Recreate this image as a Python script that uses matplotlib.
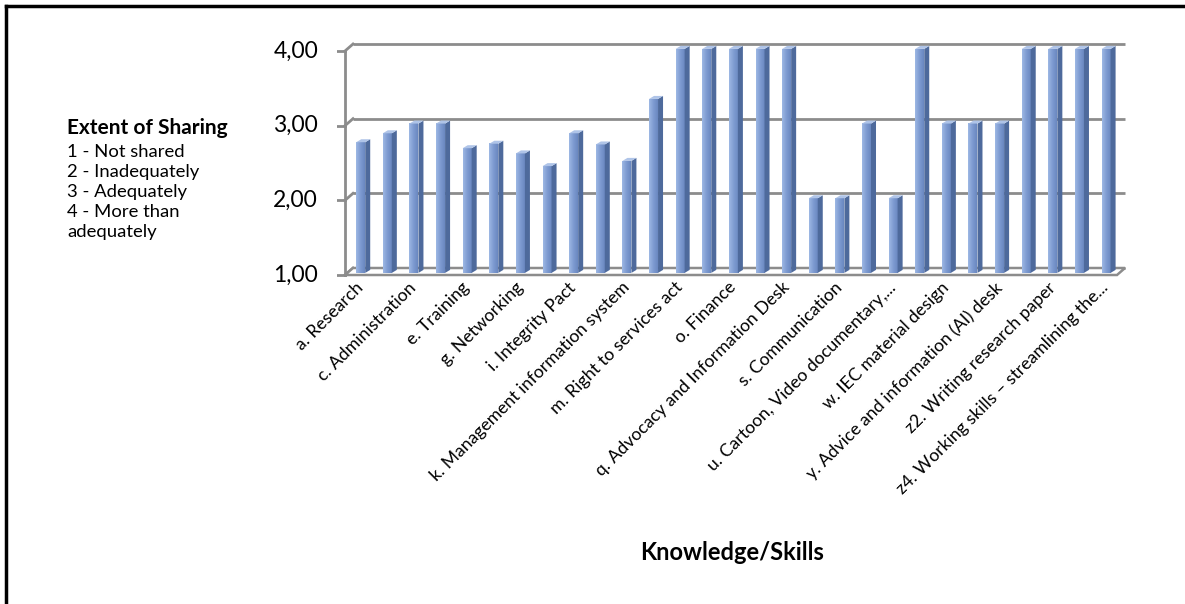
import matplotlib
matplotlib.use('Agg')
import matplotlib.pyplot as plt
import numpy as np
from matplotlib.patches import Polygon
from matplotlib.colors import LinearSegmentedColormap

# Data
codes = ['a', 'b', 'c', 'd', 'e', 'f', 'g', 'h', 'i', 'j', 'k', 'l', 'm', 'n', 'o',
         'p', 'q', 'r', 's', 't', 'u', 'v', 'w', 'x', 'y', 'z1', 'z2', 'z3', 'z4']
shown_labels = ['a. Research', 'c. Administration', 'e. Training', 'g. Networking',
                'i. Integrity Pact', 'k. Management information system',
                'm. Right to services act', 'o. Finance',
                'q. Advocacy and Information Desk', 's. Communication',
                'u. Cartoon, Video documentary,...', 'w. IEC material design',
                'y. Advice and information (AI) desk', 'z2. Writing research paper',
                'z4. Working skills \u2013 streamlining the...']
values = [2.75, 2.87, 3.00, 3.00, 2.67, 2.73, 2.60, 2.43, 2.87, 2.72, 2.50, 3.33,
          4.00, 4.00, 4.00, 4.00, 4.00, 2.00, 2.00, 3.00, 2.00, 4.00, 3.00, 3.00,
          3.00, 4.00, 4.00, 4.00, 4.00]
yticks = [1, 2, 3, 4]
legend_lines = ['1 - Not shared', '2 - Inadequately', '3 - Adequately',
                '4 - More than', 'adequately']

plt.rcParams['font.family'] = ['Lato', 'DejaVu Sans']

W, H = 1185, 604
fig = plt.figure(figsize=(W / 100, H / 100), dpi=100)

# axes placed in pixel terms
px_l, px_r, px_t, px_b = 337, 1150, 30, 290
ax = fig.add_axes([px_l / W, 1 - px_b / H, (px_r - px_l) / W, (px_b - px_t) / H])
pitch = (1117 - 345) / len(values)
yscale = (275 - 51) / 3.0
xlo = -0.5 - (345 - px_l) / pitch
xhi = -0.5 + (px_r - 345) / pitch
ylo = 1 - (px_b - 275) / yscale
yhi = 1 + (275 - px_t) / yscale
ax.axis('off')

# 3d wall depth
dx = 8 / pitch
dy = 7 / yscale
grid_c = '#8C8C8C'
n = len(values)
x0 = -0.5
x1 = n - 0.5

# gridlines on back wall + left edge
for v in yticks:
    ax.plot([x0 + dx, x1 + dx], [v + dy, v + dy], color=grid_c, lw=2.0, zorder=1,
            solid_capstyle='butt')
    ax.plot([x0, x0 + dx], [v, v + dy], color=grid_c, lw=2.0, zorder=1)
    ax.plot([x0 - 8 / pitch, x0], [v, v], color=grid_c, lw=2.0, zorder=1)
    ax.text(x0 - 27 / pitch, v, ('%.2f' % v).replace('.', ','), ha='right',
            va='center', fontsize=16.5, color='black')
ax.plot([x0, x0], [1, 4], color=grid_c, lw=2.0, zorder=1)

# floor
floor = Polygon([(x0, 1), (x1, 1), (x1 + dx, 1 + dy), (x0 + dx, 1 + dy)],
                closed=True, facecolor='white', edgecolor=grid_c, lw=1.8, zorder=2)
ax.add_patch(floor)

# bars
cmap = LinearSegmentedColormap.from_list('bar', ['#9DB8E4', '#7E9BD1', '#6A88C0'])
grad = np.linspace(0, 1, 32).reshape(1, -1)
bw = 9 / pitch
sw = 5 / pitch
sh = 3 / yscale
shift = 0.3 * dx
base = 1 + 0.3 * dy
for i, v in enumerate(values):
    cx = i + shift
    top = v + 0.3 * dy
    ax.imshow(grad, cmap=cmap, extent=(cx - bw / 2, cx + bw / 2, base, top),
              aspect='auto', zorder=4, interpolation='bilinear')
    side = Polygon([(cx + bw / 2, base), (cx + bw / 2 + sw, base + sh),
                    (cx + bw / 2 + sw, top + sh), (cx + bw / 2, top)],
                   closed=True, facecolor='#4E6A9C', edgecolor='none', zorder=4)
    ax.add_patch(side)
    cap = Polygon([(cx - bw / 2, top), (cx + bw / 2, top),
                   (cx + bw / 2 + sw, top + sh), (cx - bw / 2 + sw, top + sh)],
                  closed=True, facecolor='#AFC4E8', edgecolor='none', zorder=4)
    ax.add_patch(cap)

# category labels, every other one
for k, lab in enumerate(shown_labels):
    i = 2 * k
    ax.text(i + shift, 1 - 10 / yscale, lab, rotation=45,
            rotation_mode='anchor', ha='right', va='center', fontsize=12.7)

ax.set_xlim(xlo, xhi)
ax.set_ylim(ylo, yhi)

# legend text on the left
fig.text(67 / W, 1 - 128 / H, 'Extent of Sharing', fontsize=15, fontweight='bold',
         ha='left', va='center')
for j, line in enumerate(legend_lines):
    fig.text(67 / W, 1 - (152 + 20 * j) / H, line, fontsize=13.3, ha='left', va='center')

# axis title
fig.text(732 / W, 1 - 553 / H, 'Knowledge/Skills', fontsize=17, fontweight='bold',
         ha='center', va='center')

# outer frame (left and top only visible)
fig.add_artist(plt.Line2D([6 / W, 6 / W], [0, 1 - 6 / H], color='black', lw=2.5))
fig.add_artist(plt.Line2D([6 / W, 1], [1 - 6 / H, 1 - 6 / H], color='black', lw=2.5))

fig.savefig('out.png', dpi=100)
